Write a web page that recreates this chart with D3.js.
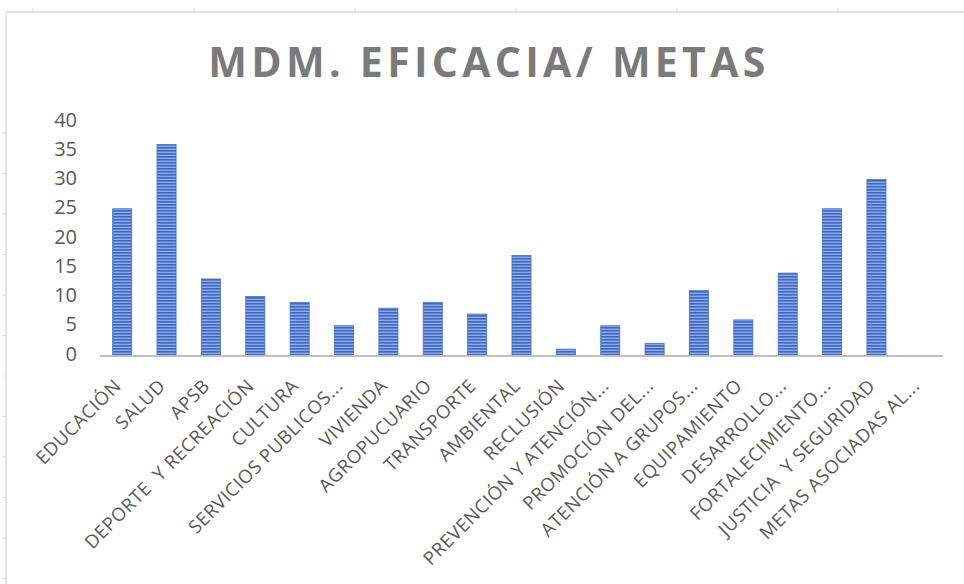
<!DOCTYPE html>
<html>
<head>
<meta charset="utf-8">
<script src="https://cdn.jsdelivr.net/npm/d3@7"></script>
<style>
  body { margin: 0; background: #fff; }
  svg { display: block; }
  .cat { white-space: pre; }
</style>
</head>
<body>
<svg id="chart" width="964" height="584"></svg>
<script>
// categories and values (metas por sector)
let categories = [
  'EDUCACIÓN', 'SALUD', 'APSB', 'DEPORTE  Y RECREACIÓN', 'CULTURA',
  'SERVICIOS PUBLICOS...', 'VIVIENDA', 'AGROPUCUARIO', 'TRANSPORTE', 'AMBIENTAL',
  'RECLUSIÓN', 'PREVENCIÓN Y ATENCIÓN...', 'PROMOCIÓN DEL...', 'ATENCIÓN A GRUPOS...', 'EQUIPAMIENTO',
  'DESARROLLO...', 'FORTALECIMIENTO...', 'JUSTICIA  Y SEGURIDAD', 'METAS ASOCIADAS AL...'
];
let values = [25, 36, 13, 10, 9, 5, 8, 9, 7, 17, 1, 5, 2, 11, 6, 14, 25, 30, 0];
let yTicks = [0, 5, 10, 15, 20, 25, 30, 35, 40];
let title = 'MDM. EFICACIA/ METAS';

let svg = d3.select('#chart');
let width = +svg.attr('width');
let height = +svg.attr('height');

// plot area
let plotLeft = 100, plotRight = 943, plotTop = 121, plotBottom = 355;

// striped fill like the excel bars
let defs = svg.append('defs');
let pat = defs.append('pattern')
  .attr('id', 'stripes')
  .attr('patternUnits', 'userSpaceOnUse')
  .attr('width', 6).attr('height', 3);
pat.append('rect').attr('width', 6).attr('height', 3).attr('fill', '#8eaae6');
pat.append('rect').attr('width', 6).attr('height', 1.6).attr('fill', '#3e68c4');

// excel sheet frame (faint border with small marks)
let frame = svg.append('g').attr('stroke', '#d9d9d9');
frame.append('line').attr('x1', 6).attr('x2', width).attr('y1', 12).attr('y2', 12).attr('stroke-width', 1.5);
frame.append('line').attr('x1', 6).attr('x2', 6).attr('y1', 12).attr('y2', height).attr('stroke-width', 1.5);
d3.range(133, height, 40.5).forEach(y => {
  frame.append('line').attr('x1', 3).attr('x2', 7).attr('y1', y).attr('y2', y);
});
d3.range(33, width, 161).forEach(x => {
  frame.append('line').attr('x1', x).attr('x2', x).attr('y1', 8).attr('y2', 13);
});

// scales
let x = d3.scaleBand().domain(categories).range([plotLeft, plotRight]).paddingInner(0.57).paddingOuter(0.285);
let y = d3.scaleLinear().domain([0, 40]).range([plotBottom, plotTop]);

// title
svg.append('text')
  .attr('x', 489)
  .attr('y', 77)
  .attr('text-anchor', 'middle')
  .attr('font-family', 'Open Sans, sans-serif')
  .attr('font-weight', 'bold')
  .attr('font-size', 41)
  .attr('letter-spacing', 4.3)
  .attr('fill', '#7a7a7a')
  .text(title);

// y axis labels
let yAxis = svg.append('g')
  .attr('transform', `translate(${plotLeft - 23},0)`)
  .call(d3.axisLeft(y).tickValues(yTicks).tickSize(0).tickPadding(0));
yAxis.select('.domain').remove();
yAxis.selectAll('text')
  .attr('font-family', 'Open Sans, sans-serif')
  .attr('font-size', 20)
  .attr('fill', '#595959')
  .attr('dy', '0.25em');

// bars
svg.append('g').selectAll('rect')
  .data(values)
  .join('rect')
  .attr('x', (d, i) => x(categories[i]))
  .attr('y', d => y(d))
  .attr('width', x.bandwidth())
  .attr('height', d => plotBottom - y(d))
  .attr('fill', 'url(#stripes)')
  .attr('stroke', '#4472c4')
  .attr('stroke-width', 0.8);

// x axis line
svg.append('line')
  .attr('x1', plotLeft).attr('x2', plotRight)
  .attr('y1', plotBottom + 1).attr('y2', plotBottom + 1)
  .attr('stroke', '#bfbfbf')
  .attr('stroke-width', 2);

// rotated category labels
svg.append('g').selectAll('text')
  .data(categories)
  .join('text')
  .attr('class', 'cat')
  .attr('transform', d => `translate(${x(d) + x.bandwidth() / 2},${plotBottom + 32}) rotate(-45)`)
  .attr('text-anchor', 'end')
  .attr('font-family', 'Open Sans, sans-serif')
  .attr('font-size', 18.5)
  .attr('letter-spacing', 0.6)
  .attr('fill', '#595959')
  .text(d => d);
</script>
</body>
</html>
